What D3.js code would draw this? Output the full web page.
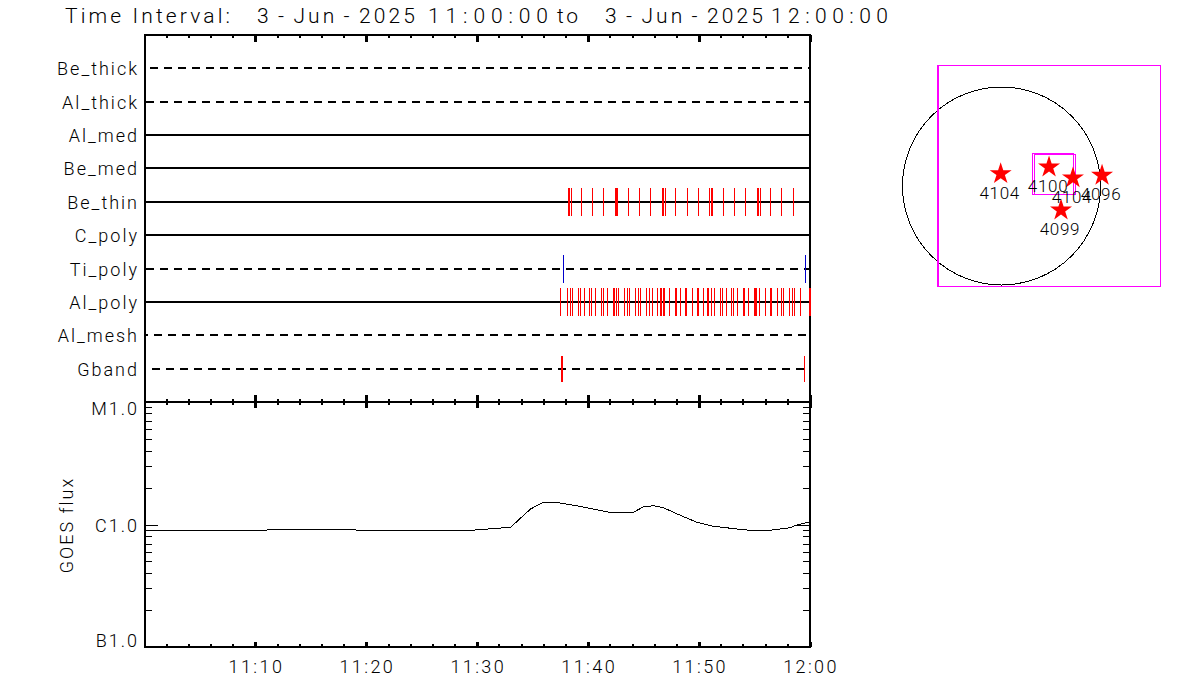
<!DOCTYPE html>
<html><head><meta charset="utf-8">
<script src="https://cdn.jsdelivr.net/npm/d3@7"></script>
<style>
html,body{margin:0;padding:0;background:#fff;overflow:hidden}
svg{display:block}
text{font-family:Roboto,"Liberation Sans",sans-serif;font-weight:300;fill:#000;white-space:pre}
</style></head><body>
<script>
const titleRuns = ["Time Interval:  ","3-Jun-2025 ","11:00:00 ","to  ","3-Jun-2025 ","12:00:00"];
const titleStarts = [65,257,428,557,605,771];
const titleEnds = [230,415,548,578,763,888];
const channels = ["Be_thick","Al_thick","Al_med","Be_med","Be_thin","C_poly","Ti_poly","Al_poly","Al_mesh","Gband"];
const dashed   = [true,true,false,false,false,false,true,false,true,true];
const dashStart= [10,6,0,0,0,0,6,0,0,12];

// pulse times, minutes after 11:00
const beThin = [38.23,38.32,38.50,39.40,40.39,41.38,42.46,42.55,42.64,43.64,44.63,45.62,46.70,46.79,46.97,47.87,48.95,49.95,50.94,51.12,51.21,52.20,53.19,54.18,55.27,55.36,55.54,56.44,57.43,58.51];
const alPoly = [37.50,38.14,38.41,38.59,39.13,39.31,39.67,40.12,40.30,40.66,41.20,41.38,41.74,42.28,42.37,42.55,42.73,43.27,43.55,43.73,44.27,44.54,44.72,45.26,45.53,45.80,46.25,46.52,46.61,46.79,46.88,47.33,47.87,47.96,48.32,48.77,48.86,49.41,49.86,49.95,50.40,50.76,50.85,51.12,51.39,51.93,52.11,52.47,52.92,53.10,53.46,54.00,54.09,54.45,54.99,55.08,55.17,55.45,55.99,56.44,56.53,57.07,57.43,57.61,58.15,58.42,58.60,59.14,59.95,60.00];
const tiPoly = [37.78,59.59];
const gband  = [37.59,37.68,59.50];

// GOES curve
const goesMinutes = [0,10.48,11.5,16.7,21.2,25.7,29.3,33.0,34.8,36.0,37.5,39.3,41.8,44.1,45.0,45.9,46.8,48.0,49.8,51.3,53.7,54.6,56.4,58.2,58.8,59.85,60];
const goesFlux = [0.896e-6,0.896e-6,0.925e-6,0.922e-6,0.905e-6,0.913e-6,0.905e-6,0.961e-6,1.352e-6,1.543e-6,1.514e-6,1.420e-6,1.277e-6,1.277e-6,1.412e-6,1.439e-6,1.385e-6,1.236e-6,1.057e-6,0.979e-6,0.925e-6,0.908e-6,0.908e-6,0.954e-6,1.004e-6,1.057e-6,1.057e-6];

const xTickLabels = ["11:10","11:20","11:30","11:40","11:50","12:00"];
const xTickMinutes = [10,20,30,40,50,60];
const yTickLabels = ["M1.0","C1.0","B1.0"];
const yTickValues = [1e-5,1e-6,1e-7];

// solar map, arcsec
const arNumbers = ["4104","4100","4104","4096","4099"];
const arX = [-8,461,693,975,577];
const arY = [119,184,78,104,-233];
const fovX0 = [-616,-610,303,319];
const fovX1 = [1537,1537,703,713];
const fovY0 = [1168,1168,313,305];
const fovY1 = [-979,-970,-87,-87];

const svg = d3.select("body").append("svg").attr("width",1200).attr("height",700);
const x = d3.scaleLinear().domain([0,60]).range([144.5,810]);
const rowY = d3.scaleLinear().domain([-1,10]).rangeRound([35,402]);
const y = d3.scaleLog().domain(yTickValues).range([402,525.2,646.7]);
const mapX = d3.scaleLinear().domain([-960,960]).range([902.5,1100.5]);
const mapY = d3.scaleLinear().domain([-960,960]).range([285,87]);

const crisp = svg.append("g").attr("shape-rendering","crispEdges").attr("stroke","#000");

// frames
function hline(y0,w){crisp.append("line").attr("x1",144).attr("x2",811).attr("y1",y0).attr("y2",y0).attr("stroke-width",w);}
function vline(x0,a,b,w){crisp.append("line").attr("x1",x0).attr("x2",x0).attr("y1",a).attr("y2",b).attr("stroke-width",w);}
hline(35,2);hline(402,2);hline(647,2);
vline(145,34,648,2);vline(810,34,648,2);

// channel lines
channels.forEach((c,i)=>{
  const l = crisp.append("line").attr("x1",145).attr("x2",810)
    .attr("y1",rowY(i)).attr("y2",rowY(i)).attr("stroke-width",2);
  if(dashed[i]) l.attr("stroke-dasharray","8 6").attr("stroke-dashoffset",((145-dashStart[i])%14+14)%14);
  svg.append("text").attr("x",139).attr("y",rowY(i)+7).attr("text-anchor","end")
    .attr("font-size",18).attr("letter-spacing",2).text(c);
});

// pulses
function pulses(vals,row,half,color){
  crisp.append("g").selectAll("line").data(vals).join("line")
    .attr("x1",d=>Math.floor(x(d))+0.5).attr("x2",d=>Math.floor(x(d))+0.5)
    .attr("y1",rowY(row)-half).attr("y2",rowY(row)+half)
    .attr("stroke",color).attr("stroke-width",1);
}
pulses(beThin,4,14,"#ff0000");
pulses(tiPoly,6,14,"#0000cc");
pulses(alPoly,7,14,"#ff0000");
pulses(gband,9,13,"#ff0000");

// x ticks
const minutes = d3.range(2,60,2);
minutes.concat([60]).forEach(m=>{
  const maj = m%10===0, px=x(m), w=maj?3:2;
  vline(px,35,maj?42:38,w);
  vline(px,maj?395:399,maj?408:405,w);
  vline(px,maj?642:644,647,w);
});
svg.append("g").selectAll("text").data(xTickMinutes).join("text")
  .attr("x",d=>x(d)+1).attr("y",673).attr("text-anchor","middle")
  .attr("font-size",18).attr("letter-spacing",2.4).text((d,i)=>xTickLabels[i]);

// y ticks (log)
const yMinor = [];
[1e-6,1e-7].forEach(dec=>d3.range(2,10).forEach(k=>yMinor.push(k*dec)));
yMinor.forEach(v=>{
  crisp.append("line").attr("x1",145).attr("x2",152).attr("y1",y(v)).attr("y2",y(v)).attr("stroke-width",1);
  crisp.append("line").attr("x1",803).attr("x2",810).attr("y1",y(v)).attr("y2",y(v)).attr("stroke-width",1);
});
crisp.append("line").attr("x1",145).attr("x2",158).attr("y1",y(1e-6)).attr("y2",y(1e-6)).attr("stroke-width",1);
crisp.append("line").attr("x1",796).attr("x2",810).attr("y1",y(1e-6)).attr("y2",y(1e-6)).attr("stroke-width",1);
const yLabelBase = [415,532,647];
svg.append("g").selectAll("text").data(yTickLabels).join("text")
  .attr("x",139).attr("y",(d,i)=>yLabelBase[i]).attr("text-anchor","end")
  .attr("font-size",18).attr("letter-spacing",2).text(d=>d);
svg.append("text").attr("transform","translate(73,525) rotate(-90)").attr("text-anchor","middle")
  .attr("font-size",18).attr("letter-spacing",2).text("GOES flux");

// GOES curve
const line = d3.line().x(d=>x(d[0])).y(d=>y(d[1]));
svg.append("path").attr("d",line(goesMinutes.map((m,i)=>[m,goesFlux[i]])))
  .attr("fill","none").attr("stroke","#000").attr("stroke-width",1).attr("shape-rendering","crispEdges");

// title: one text; each word group placed on its span, hyphens get the most room
const title = svg.append("text").attr("y",23).attr("font-size",21);
titleRuns.forEach((r,i)=>{
  const t = title.append("tspan").text(r);
  const node = t.node();
  const word = r.trimEnd();
  const widths = Array.from(r,(c,k)=>node.getSubStringLength(k,1));
  const natural = d3.sum(widths.slice(0,word.length));
  let weight = 0;
  const gaps = Array.from(word).slice(0,-1).map((c,k)=>{
    const w = (c==="-"||word[k+1]==="-")?3:1; weight+=w; return w;
  });
  const unit = (titleEnds[i]-titleStarts[i]-natural)/weight;
  let pos = titleStarts[i];
  const xs = Array.from(r,(c,k)=>{
    const here = pos;
    pos += widths[k] + (k<gaps.length?gaps[k]*unit:0);
    return here.toFixed(1);
  });
  t.attr("x",xs.join(" "));
});

// map
svg.append("circle").attr("cx",mapX(0)).attr("cy",mapY(0)).attr("r",mapX(960)-mapX(0))
  .attr("fill","none").attr("stroke","#000").attr("stroke-width",1).attr("shape-rendering","crispEdges");
const map = svg.append("g").attr("shape-rendering","crispEdges");
map.selectAll("rect").data(fovX0).join("rect")
  .attr("x",(d)=>mapX(d)).attr("y",(d,i)=>mapY(fovY0[i]))
  .attr("width",(d,i)=>mapX(fovX1[i])-mapX(d)).attr("height",(d,i)=>mapY(fovY1[i])-mapY(fovY0[i]))
  .attr("fill","none").attr("stroke","#ff00ff").attr("stroke-width",1);
const star = d3.symbol().type(d3.symbolStar).size(150);
svg.append("g").selectAll("path").data(arX).join("path")
  .attr("d",star).attr("fill","#ff0000")
  .attr("transform",(d,i)=>`translate(${mapX(d)},${mapY(arY[i])})`);
svg.append("g").selectAll("text").data(arNumbers).join("text")
  .attr("x",(d,i)=>mapX(arX[i])-1).attr("y",(d,i)=>mapY(arY[i])+25)
  .attr("text-anchor","middle").attr("font-size",17).attr("letter-spacing",0.7).text(d=>d);
</script>
</body></html>
